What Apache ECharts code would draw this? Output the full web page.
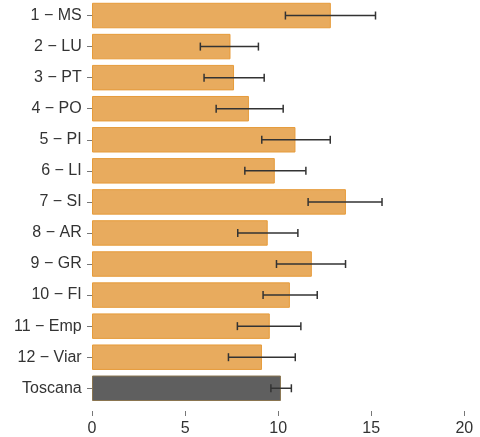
<!DOCTYPE html>
<html>
<head>
<meta charset="utf-8">
<script src="https://cdn.jsdelivr.net/npm/echarts@6/dist/echarts.min.js"></script>
<style>
html,body{margin:0;padding:0;background:#fff;}
#c{width:480px;height:437px;}
</style>
</head>
<body>
<div id="c"></div>
<script>
var categories = ['1 \u2212 MS','2 \u2212 LU','3 \u2212 PT','4 \u2212 PO','5 \u2212 PI','6 \u2212 LI','7 \u2212 SI','8 \u2212 AR','9 \u2212 GR','10 \u2212 FI','11 \u2212 Emp','12 \u2212 Viar','Toscana'];
var values = [12.83, 7.44, 7.63, 8.43, 10.93, 9.82, 13.64, 9.44, 11.81, 10.63, 9.55, 9.13, 10.15];
var lower  = [10.39, 5.82, 6.02, 6.67, 9.12, 8.21, 11.61, 7.83, 9.91, 9.19, 7.81, 7.33, 9.61];
var upper  = [15.23, 8.94, 9.25, 10.27, 12.80, 11.49, 15.58, 11.06, 13.62, 12.10, 11.22, 10.92, 10.71];
var xTicks = [0, 5, 10, 15, 20];

var barData = values.map(function(v, i){
  var isTot = categories[i] === 'Toscana';
  return {
    value: v,
    itemStyle: isTot ? {color:'#5f5f5f', borderColor:'#8a7550', borderWidth:1}
                     : {color:'#e8ab5e', borderColor:'#e69b3a', borderWidth:1}
  };
});
var errData = categories.map(function(c, i){ return [i, lower[i], upper[i]]; });

var chart = echarts.init(document.getElementById('c'), null, {renderer:'canvas'});
chart.setOption({
  animation:false,
  backgroundColor:'#ffffff',
  textStyle:{fontFamily:'Liberation Sans, Arial, sans-serif'},
  grid:{left:92, right:15.7, top:-1.4, bottom:33, containLabel:false},
  xAxis:{
    type:'value', min:xTicks[0], max:xTicks[xTicks.length-1], interval:5,
    offset:7.2,
    axisLine:{show:false},
    axisTick:{show:true, length:5, lineStyle:{color:'#777', width:1}},
    splitLine:{show:false},
    axisLabel:{color:'#333', fontSize:16, margin:10, fontFamily:'Liberation Sans, Arial, sans-serif'}
  },
  yAxis:{
    type:'category', data:categories, inverse:true,
    offset:1.3,
    axisLine:{show:false},
    axisTick:{show:true, length:5, alignWithLabel:true, lineStyle:{color:'#777', width:1}},
    axisLabel:{color:'#333', fontSize:16, margin:9, fontFamily:'Liberation Sans, Arial, sans-serif'}
  },
  series:[
    {type:'bar', data:barData, barCategoryGap:'18%'},
    {
      type:'custom', data:errData, encode:{y:0, x:[1,2]}, z:10,
      renderItem:function(params, api){
        var idx = api.value(0);
        var p1 = api.coord([api.value(1), idx]);
        var p2 = api.coord([api.value(2), idx]);
        var h = 4;
        var st = {stroke:'#333', lineWidth:1.5};
        return {type:'group', children:[
          {type:'line', shape:{x1:p1[0], y1:p1[1], x2:p2[0], y2:p2[1]}, style:st},
          {type:'line', shape:{x1:p1[0], y1:p1[1]-h, x2:p1[0], y2:p1[1]+h}, style:st},
          {type:'line', shape:{x1:p2[0], y1:p2[1]-h, x2:p2[0], y2:p2[1]+h}, style:st}
        ]};
      }
    }
  ]
});
</script>
</body>
</html>
